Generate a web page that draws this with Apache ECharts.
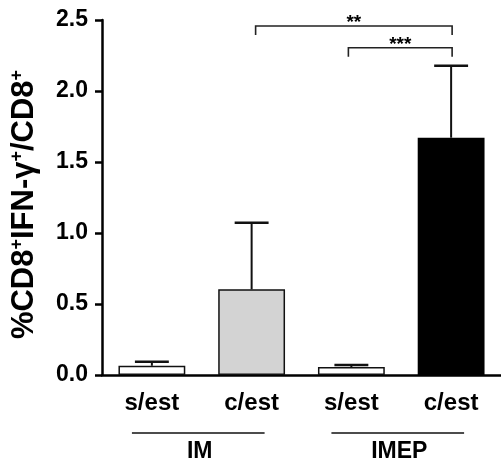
<!DOCTYPE html>
<html>
<head>
<meta charset="utf-8">
<script src="https://cdn.jsdelivr.net/npm/echarts@6/dist/echarts.min.js"></script>
<style>
  html, body { margin: 0; padding: 0; background: #fff; }
  #chart { width: 501px; height: 471px; }
</style>
</head>
<body>
<div id="chart"></div>
<script>
// data
const categories = ['s/est', 'c/est', 's/est', 'c/est'];
const means = [0.065, 0.603, 0.056, 1.671];
const sems = [0.029, 0.469, 0.014, 0.507];
const barColors = ['#ffffff', '#d3d3d3', '#ffffff', '#000000'];

// groups under the axis: [label, first category, last category]
const groups = [['IM', 0, 1], ['IMEP', 2, 3]];

// significance brackets: [from, to, height, stars]
const brackets = [[1, 3, 2.458, '**'], [2, 3, 2.305, '***']];

const FONT = 'Liberation Sans, Arial, Helvetica, sans-serif';

const dom = document.getElementById('chart');
const chart = echarts.init(dom, null, { renderer: 'canvas' });

chart.setOption({
  animation: false,
  backgroundColor: '#fff',
  grid: { left: 97.5, right: -3, top: 20, bottom: 96, containLabel: false },
  xAxis: {
    type: 'category',
    data: categories,
    axisLine: { lineStyle: { color: '#000', width: 2.5 } },
    axisTick: { show: false },
    axisLabel: {
      margin: 16,
      color: '#000',
      fontFamily: FONT,
      fontWeight: 'bold',
      fontSize: 24
    }
  },
  yAxis: {
    type: 'value',
    min: 0,
    max: 2.5,
    interval: 0.5,
    splitLine: { show: false },
    axisLine: { show: true, lineStyle: { color: '#000', width: 2.5 } },
    axisTick: { show: true, length: 7, lineStyle: { color: '#000', width: 2.5 } },
    axisLabel: {
      margin: 14,
      color: '#000',
      fontFamily: FONT,
      fontWeight: 'bold',
      fontSize: 23,
      formatter: v => v.toFixed(1)
    },
    name: '{m|%CD8}{s|+}{m|IFN-γ}{s|+}{m|/CD8}{s|+}',
    nameLocation: 'middle',
    nameRotate: 90,
    nameGap: 62,
    nameTextStyle: {
      padding: [0, 14, 0, 0],
      rich: {
        m: { fontFamily: FONT, fontWeight: 'bold', fontSize: 31, color: '#000', lineHeight: 32, verticalAlign: 'bottom' },
        s: { fontFamily: FONT, fontWeight: 'bold', fontSize: 18, color: '#000', lineHeight: 32, verticalAlign: 'top' }
      }
    }
  },
  series: [
    {
      type: 'bar',
      barWidth: '67%',
      data: means.map((v, i) => ({
        value: v,
        itemStyle: {
          color: barColors[i],
          borderColor: '#111',
          borderWidth: i === 3 ? 0 : 1.5
        }
      })),
      z: 2
    },
    {
      // upper error bars
      type: 'custom',
      data: means.map((v, i) => [i, v, sems[i]]),
      encode: { x: 0, y: 1 },
      z: 3,
      renderItem: function (params, api) {
        const i = api.value(0);
        const base = api.coord([i, api.value(1)]);
        const top = api.coord([i, api.value(1) + api.value(2)]);
        const half = api.size([1, 0])[0] * 0.17;
        return {
          type: 'group',
          children: [
            { type: 'line', shape: { x1: base[0], y1: base[1], x2: top[0], y2: top[1] }, style: { stroke: '#111', lineWidth: 2 } },
            { type: 'line', shape: { x1: top[0] - half, y1: top[1], x2: top[0] + half, y2: top[1] }, style: { stroke: '#111', lineWidth: 2.5 } }
          ]
        };
      }
    },
    {
      // significance brackets
      type: 'custom',
      data: brackets.map(b => [b[0], b[1], b[2]]),
      encode: { x: 0, y: 2 },
      z: 3,
      renderItem: function (params, api) {
        const b = brackets[params.dataIndex];
        const bw = api.size([1, 0])[0];
        const p1 = api.coord([b[0], b[2]]);
        const p2 = api.coord([b[1], b[2]]);
        const x1 = p1[0] + (b[0] === 1 ? 0.04 : -0.03) * bw;
        const x2 = p2[0] + 0.01 * bw;
        const drop = 9;
        return {
          type: 'group',
          children: [
            {
              type: 'polyline',
              shape: { points: [[x1, p1[1] + drop], [x1, p1[1]], [x2, p1[1]], [x2, p1[1] + drop]] },
              style: { stroke: '#222', lineWidth: 1.6, fill: null }
            },
            {
              type: 'text',
              style: {
                x: (x1 + x2) / 2,
                y: p1[1] - 3,
                text: b[3],
                fill: '#000',
                font: 'bold 19px ' + FONT,
                textAlign: 'center',
                textVerticalAlign: 'middle'
              }
            }
          ]
        };
      }
    },
    {
      // group lines and names under the category labels
      type: 'custom',
      data: groups.map(g => [g[1], g[2], 0]),
      encode: { x: 0, y: 2 },
      clip: false,
      renderItem: function (params, api) {
        const g = groups[params.dataIndex];
        const bw = api.size([1, 0])[0];
        const a = api.coord([g[1], 0]);
        const b = api.coord([g[2], 0]);
        const y = a[1] + 58;
        return {
          type: 'group',
          children: [
            { type: 'line', shape: { x1: a[0] - 0.2 * bw, y1: y, x2: b[0] + 0.13 * bw, y2: y }, style: { stroke: '#111', lineWidth: 1.5 } },
            {
              type: 'text',
              style: {
                x: (a[0] + b[0]) / 2 - 2,
                y: y + 19,
                text: g[0],
                fill: '#000',
                font: 'bold 23px ' + FONT,
                textAlign: 'center',
                textVerticalAlign: 'middle'
              }
            }
          ]
        };
      }
    }
  ]
});

window.addEventListener('resize', () => chart.resize());
</script>
</body>
</html>
